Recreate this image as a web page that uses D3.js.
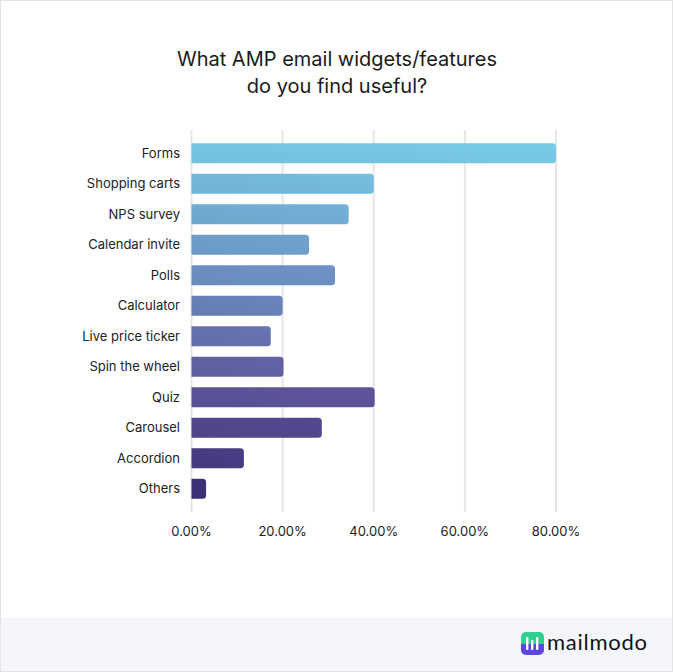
<!DOCTYPE html>
<html>
<head>
<meta charset="utf-8">
<script src="https://cdn.jsdelivr.net/npm/d3@7"></script>
<style>
  body { margin: 0; background: #fff; }
  svg { display: block; font-family: Inter, "Noto Sans", sans-serif; }
</style>
</head>
<body>
<svg id="chart" width="673" height="672"></svg>
<script>
// data
var features = ["Forms", "Shopping carts", "NPS survey", "Calendar invite", "Polls", "Calculator",
  "Live price ticker", "Spin the wheel", "Quiz", "Carousel", "Accordion", "Others"];
var shares = [80, 40, 34.5, 25.8, 31.5, 20, 17.4, 20.2, 40.2, 28.6, 11.5, 3.2];
var ticks = [0, 20, 40, 60, 80];

var svg = d3.select("#chart");

// card + footer
svg.append("rect").attr("x", 0.5).attr("y", 0.5).attr("width", 672).attr("height", 671)
  .attr("fill", "#fff").attr("stroke", "#e3e3e3");
svg.append("rect").attr("x", 1).attr("y", 618).attr("width", 671).attr("height", 53)
  .attr("fill", "#f5f6fb");

// title
var title = svg.append("text").attr("text-anchor", "middle").attr("font-size", 20)
  .attr("fill", "#1a1a1a");
title.append("tspan").attr("x", 337).attr("y", 66).text("What AMP email widgets/features");
title.append("tspan").attr("x", 337).attr("y", 93).text("do you find useful?");

var x = d3.scaleLinear().domain([0, 80]).range([191.5, 556]);
var y = d3.scaleBand().domain(features).range([138, 504]).paddingInner(0.34).paddingOuter(0.17);

// grid
svg.append("g").selectAll("line").data(ticks).join("line")
  .attr("x1", d => x(d)).attr("x2", d => x(d))
  .attr("y1", 130).attr("y2", 512)
  .attr("stroke", "#e6e6e6").attr("stroke-width", 2);

// tick labels
svg.append("g").selectAll("text").data(ticks).join("text")
  .attr("x", d => x(d)).attr("y", 536)
  .attr("text-anchor", "middle").attr("font-size", 13).attr("fill", "#222")
  .text(d => d3.format(".2f")(d) + "%");

// colours go from light blue to deep purple
var col = d3.scaleLinear().domain([0, 4, 8, 11])
  .range(["#75c6e1", "#6c8fc1", "#5b5298", "#3b3175"]).interpolate(d3.interpolateRgb);

var defs = svg.append("defs");
features.forEach(function(f, i){
  var g = defs.append("linearGradient").attr("id", "g" + i)
    .attr("x1", 0).attr("y1", 1).attr("x2", 1).attr("y2", 0);
  g.append("stop").attr("offset", 0).attr("stop-color", d3.color(col(i)).darker(0.08));
  g.append("stop").attr("offset", 1).attr("stop-color", d3.color(col(i)).brighter(0.08));
});

function barPath(x0, y0, w, h, r){
  return "M" + x0 + "," + y0 + "H" + (x0 + w - r) + "Q" + (x0 + w) + "," + y0 + " " + (x0 + w) + "," + (y0 + r)
    + "V" + (y0 + h - r) + "Q" + (x0 + w) + "," + (y0 + h) + " " + (x0 + w - r) + "," + (y0 + h)
    + "H" + x0 + "Z";
}

svg.append("g").selectAll("path").data(features).join("path")
  .attr("d", (d, i) => barPath(x(0), y(d), x(shares[i]) - x(0), y.bandwidth(), 3.5))
  .attr("fill", (d, i) => "url(#g" + i + ")");

// category labels
svg.append("g").selectAll("text").data(features).join("text")
  .attr("x", 180).attr("y", d => y(d) + y.bandwidth() / 2)
  .attr("dy", "0.35em").attr("text-anchor", "end")
  .attr("font-size", 13).attr("fill", "#222")
  .text(d => d);

// logo
var logo = svg.append("g").attr("transform", "translate(521,632)");
var lg = defs.append("linearGradient").attr("id", "logoG").attr("x1", 0).attr("y1", 0).attr("x2", 0).attr("y2", 1);
lg.append("stop").attr("offset", 0.5).attr("stop-color", "#2fcf8f");
lg.append("stop").attr("offset", 0.5).attr("stop-color", "#5b46e0");
logo.append("rect").attr("width", 23).attr("height", 23).attr("rx", 5).attr("fill", "url(#logoG)");
[6, 11, 16].forEach(function(px, k){
  logo.append("rect").attr("x", px - 1).attr("y", k == 1 ? 8 : 5).attr("width", 2.4)
    .attr("height", k == 1 ? 10 : 13).attr("rx", 1).attr("fill", "#fff");
});
svg.append("text").attr("x", 547).attr("y", 650).attr("font-size", 22)
  .attr("font-family", "Lato, Inter, sans-serif")
  .attr("textLength", 100).attr("lengthAdjust", "spacing")
  .attr("fill", "#111").text("mailmodo");
</script>
</body>
</html>
